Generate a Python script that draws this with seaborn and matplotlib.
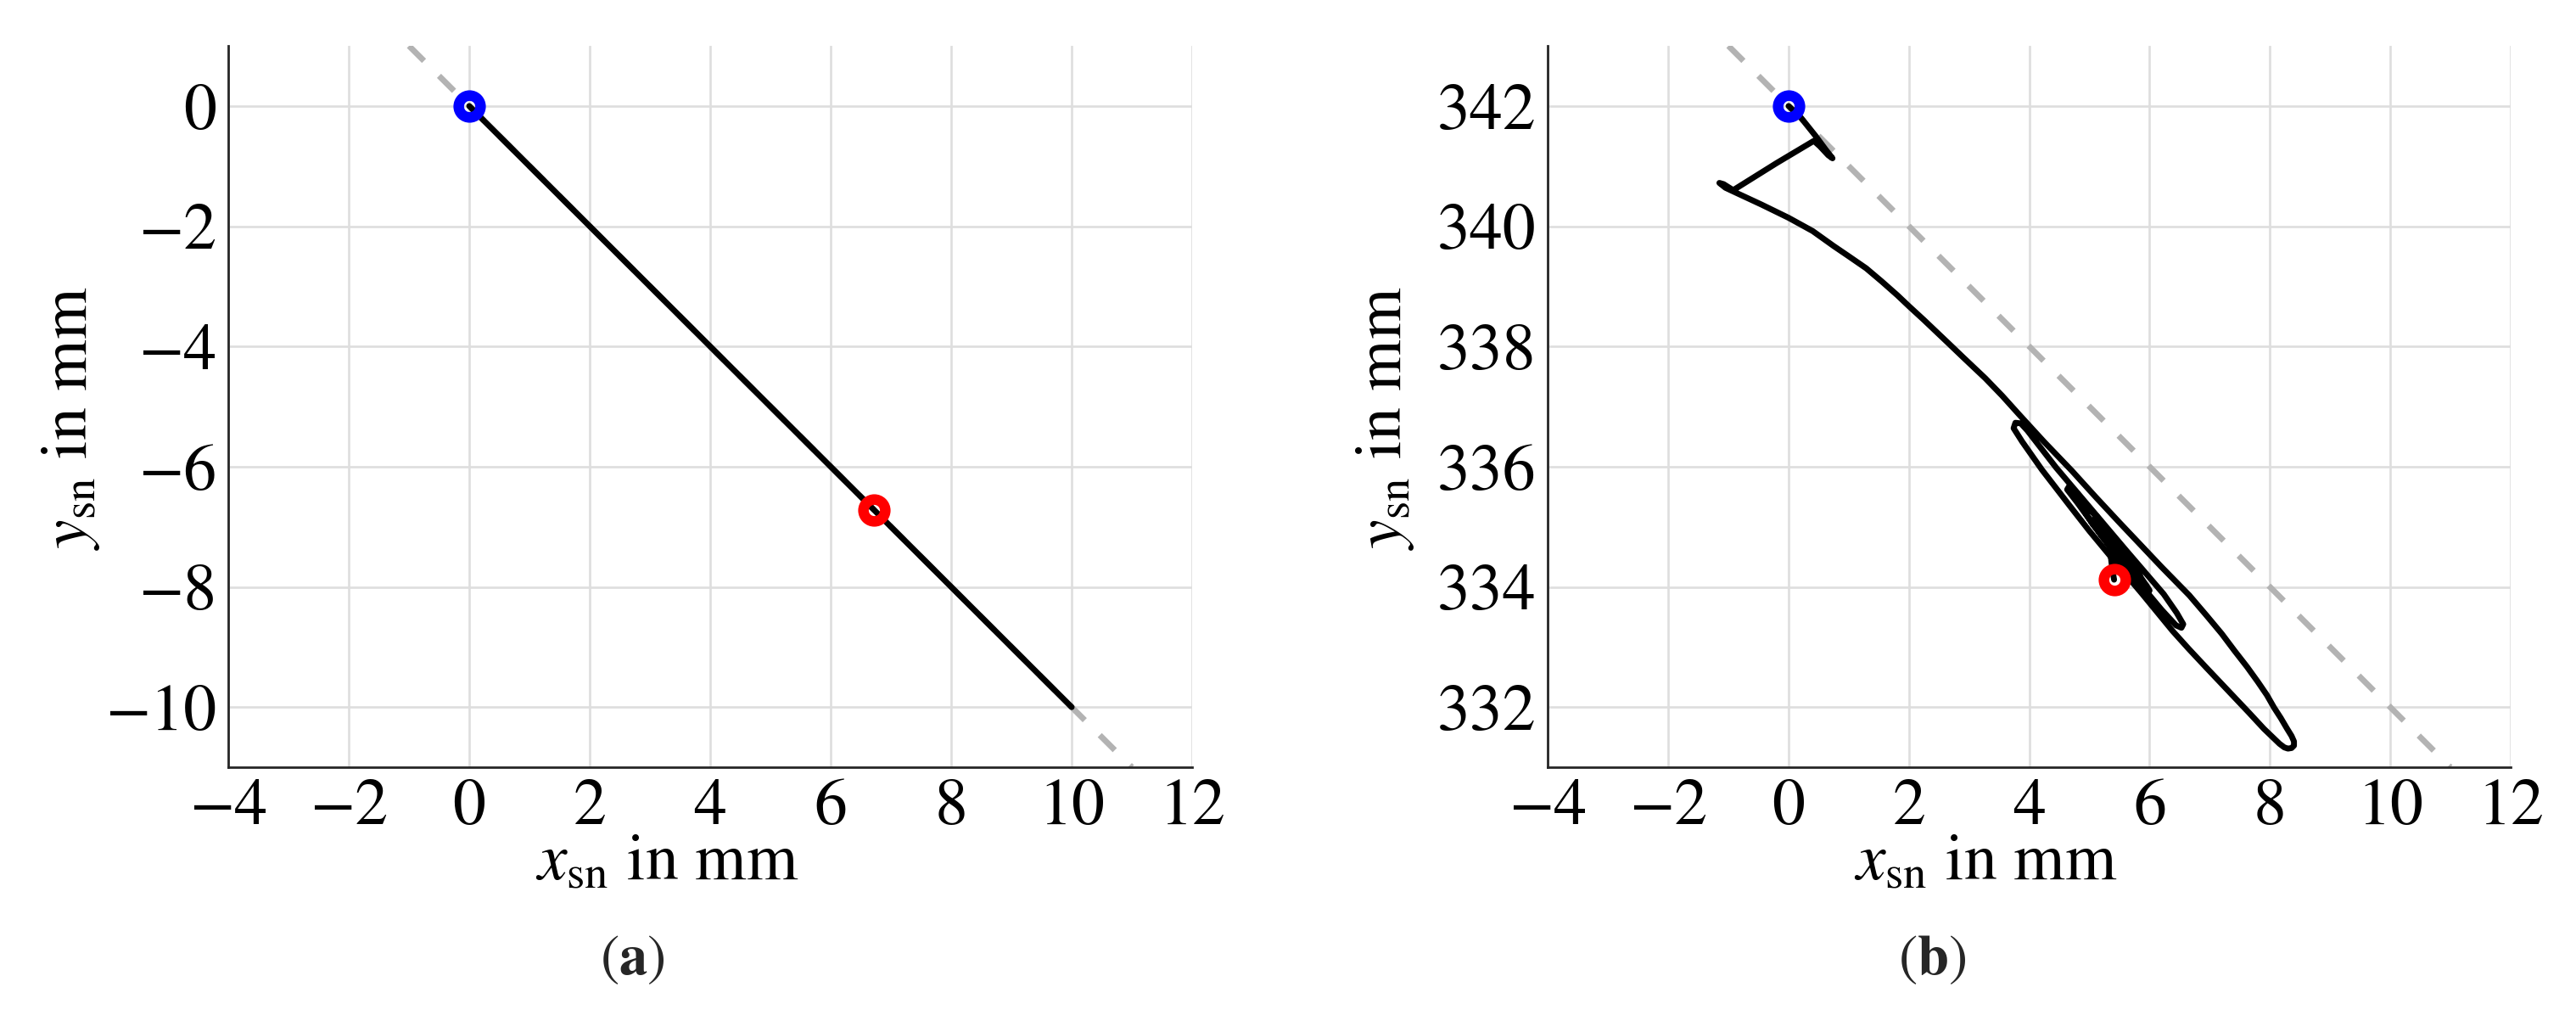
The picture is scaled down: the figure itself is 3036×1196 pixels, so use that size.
import matplotlib
matplotlib.use("Agg")
import matplotlib.pyplot as plt
import seaborn as sns

# ---------------- data ----------------
xticks = [-4, -2, 0, 2, 4, 6, 8, 10, 12]
yticks_a = [-10, -8, -6, -4, -2, 0]
yticks_b = [332, 334, 336, 338, 340, 342]

# panel (a)
traj_a_x = [0.0, 10.0]
traj_a_y = [0.0, -10.0]
start_a_x, start_a_y = [0.0], [0.0]
end_a_x, end_a_y = [6.72], [-6.72]
ref_a_x = [-1.0, 11.0]
ref_a_y = [1.0, -11.0]

# panel (b)
traj_b_x = [0.00, 0.21, 0.45, 0.62, 0.73, 0.66, 0.52, 0.42, -0.20, -0.92,
            -1.08, -1.15, -1.05, -0.88, -0.45, 0.00, 0.40, 0.75, 1.00, 1.29,
            1.55, 1.81, 2.00, 2.25, 2.66, 2.90, 3.27, 3.55, 3.82, 4.25,
            4.71, 5.10, 5.50, 5.85, 6.20, 6.66, 6.95, 7.20, 7.41, 7.62,
            7.80, 7.95, 8.07, 8.18, 8.28, 8.36, 8.40, 8.40, 8.36, 8.30,
            8.24, 8.16, 7.90, 7.65, 7.30, 6.94, 6.65, 6.38, 5.88, 5.34,
            5.00, 4.68, 4.21, 3.88, 3.74, 3.77, 3.86, 3.97, 4.45, 5.00,
            5.60, 6.235, 6.45, 6.56, 6.53, 6.44, 6.20, 5.70, 5.20, 4.80,
            4.63, 4.66, 4.76, 5.10, 5.60, 5.95, 6.00, 5.92, 5.55, 5.05,
            4.88, 4.93, 5.10, 5.50, 5.83, 5.86, 5.76, 5.40, 5.05, 5.10,
            5.35, 5.68, 5.62, 5.30, 5.18, 5.28, 5.52, 5.50, 5.35, 5.38,
            5.41]
traj_b_y = [342.00, 341.80, 341.50, 341.27, 341.13, 341.18, 341.33, 341.42, 341.05, 340.60,
            340.70, 340.72, 340.64, 340.56, 340.36, 340.14, 339.92, 339.67, 339.50, 339.30,
            339.08, 338.85, 338.67, 338.44, 338.05, 337.82, 337.47, 337.18, 336.88, 336.41,
            335.93, 335.50, 335.07, 334.70, 334.33, 333.86, 333.52, 333.22, 332.94, 332.67,
            332.42, 332.20, 331.99, 331.82, 331.65, 331.52, 331.43, 331.36, 331.32, 331.31,
            331.33, 331.39, 331.64, 331.91, 332.28, 332.66, 332.97, 333.27, 333.88, 334.52,
            334.93, 335.34, 335.95, 336.42, 336.64, 336.73, 336.72, 336.60, 335.98, 335.33,
            334.62, 333.88, 333.57, 333.38, 333.32, 333.36, 333.62, 334.22, 334.85, 335.40,
            335.62, 335.67, 335.60, 335.18, 334.52, 334.02, 333.94, 333.97, 334.42, 335.05,
            335.32, 335.36, 335.20, 334.70, 334.22, 334.12, 334.18, 334.62, 335.10, 335.14,
            334.85, 334.42, 334.42, 334.80, 334.98, 334.92, 334.60, 334.52, 334.55, 334.30,
            334.12]
start_b_x, start_b_y = [0.0], [342.0]
end_b_x, end_b_y = [5.41], [334.12]
ref_b_x = [-1.0, 11.0]
ref_b_y = [343.0, 331.0]

# ---------------- style ----------------
sns.set_theme(style="white")
plt.rcParams["font.family"] = ["STIXGeneral", "DejaVu Serif"]
plt.rcParams["mathtext.fontset"] = "stix"

FS = 56
SPINE = "#262626"
GRID = "#dedede"
GRAY = "#b3b3b3"

fig = plt.figure(figsize=(30.36, 11.96), dpi=100)
ax1 = fig.add_axes([0.0886, 0.2441, 0.3742, 0.7107])
ax2 = fig.add_axes([0.6009, 0.2441, 0.3737, 0.7107])


def draw(ax, rx, ry, tx, ty, sx, sy, ex, ey, ylim, yticks, ylab_x):
    sns.lineplot(x=rx, y=ry, ax=ax, sort=False, estimator=None, color=GRAY,
                 lw=5, linestyle=(0, (3.6, 3.6)), dash_capstyle="butt", zorder=2)
    sns.lineplot(x=tx, y=ty, ax=ax, sort=False, estimator=None, color="black",
                 lw=5.0, zorder=3, solid_joinstyle="round")
    sns.lineplot(x=sx, y=sy, ax=ax, sort=False, estimator=None, color="blue",
                 marker="o", ms=18.5, mfc="none", mec="blue", mew=9.0,
                 linestyle="none", zorder=4)
    sns.lineplot(x=ex, y=ey, ax=ax, sort=False, estimator=None, color="red",
                 marker="o", ms=18.5, mfc="none", mec="red", mew=9.0,
                 linestyle="none", zorder=4)
    ax.set_xlim(-4, 12)
    ax.set_ylim(*ylim)
    ax.set_xticks(xticks)
    ax.set_yticks(yticks)
    ax.grid(True, color=GRID, lw=1.9)
    ax.set_axisbelow(True)
    for s in ["top", "right"]:
        ax.spines[s].set_visible(False)
    for s in ["left", "bottom"]:
        ax.spines[s].set_color(SPINE)
        ax.spines[s].set_linewidth(2.0)
    ax.tick_params(direction="in", length=9.5, width=2.0, color=SPINE,
                   labelsize=FS, labelcolor="black", pad=10)
    ax.set_xlabel(r"$x_{\mathrm{sn}}$ in mm", fontsize=FS, color="black")
    ax.set_ylabel(r"$y_{\mathrm{sn}}$ in mm", fontsize=FS, color="black")
    ax.xaxis.set_label_coords(0.455, -0.092)
    ax.yaxis.set_label_coords(ylab_x, 0.4835)


draw(ax1, ref_a_x, ref_a_y, traj_a_x, traj_a_y, start_a_x, start_a_y,
     end_a_x, end_a_y, (-11, 1), yticks_a, -0.131)
draw(ax2, ref_b_x, ref_b_y, traj_b_x, traj_b_y, start_b_x, start_b_y,
     end_b_x, end_b_y, (331, 343), yticks_b, -0.137)

fig.text(745 / 3036, 1 - 1132 / 1196, r"$(\mathbf{a})$", ha="center", va="center", fontsize=48)
fig.text(2277 / 3036, 1 - 1132 / 1196, r"$(\mathbf{b})$", ha="center", va="center", fontsize=48)

fig.savefig("out.png", dpi=100, facecolor="white")
